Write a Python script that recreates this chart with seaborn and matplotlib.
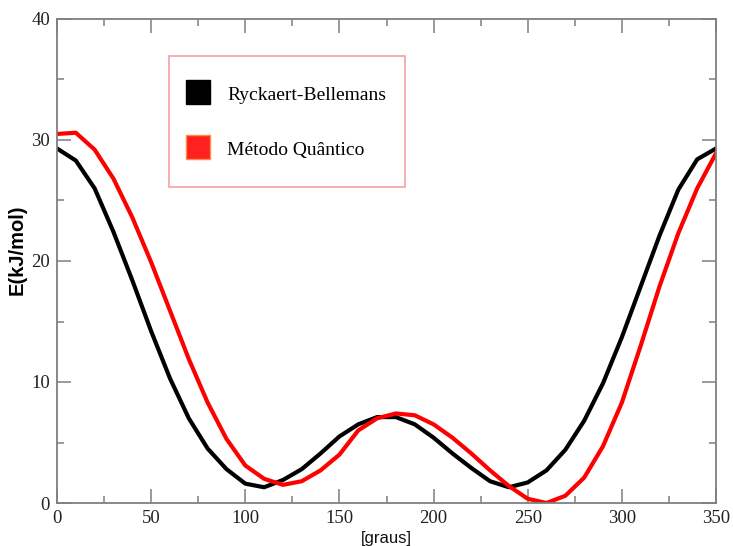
import numpy as np
import pandas as pd
import matplotlib
matplotlib.use("Agg")
import matplotlib.pyplot as plt
from matplotlib.lines import Line2D
from matplotlib.ticker import MultipleLocator
import seaborn as sns

angles = list(range(0, 351, 10))
rb_values = [29.3, 28.3, 26.0, 22.4, 18.4, 14.2, 10.3, 7.0, 4.5, 2.8,
             1.6, 1.3, 1.9, 2.8, 4.1, 5.5, 6.5, 7.1, 7.1, 6.5,
             5.4, 4.1, 2.9, 1.8, 1.3, 1.7, 2.7, 4.4, 6.8, 9.9,
             13.7, 17.9, 22.1, 25.9, 28.4, 29.3]
qm_values = [30.5, 30.6, 29.2, 26.8, 23.6, 19.9, 15.9, 11.9, 8.3, 5.3,
             3.1, 2.0, 1.5, 1.8, 2.7, 4.0, 6.0, 7.0, 7.4, 7.25,
             6.5, 5.4, 4.1, 2.7, 1.4, 0.35, 0.0, 0.6, 2.1, 4.7,
             8.3, 13.0, 17.9, 22.3, 26.0, 28.9]
series_names = ["Ryckaert-Bellemans", "Método Quântico"]
x_label = "[graus]"
y_label = "E(kJ/mol)"

df = pd.DataFrame({
    "angle": angles * 2,
    "E": rb_values + qm_values,
    "method": [series_names[0]] * len(angles) + [series_names[1]] * len(angles),
})

sns.set_style("white")
fig = plt.figure(figsize=(7.33, 5.46), dpi=100)
ax = fig.add_axes([57 / 733, 1 - 503 / 546, (716 - 57) / 733, (503 - 19) / 546])

line_colors = {series_names[0]: "#000000", series_names[1]: "#ff0000"}
sns.lineplot(data=df, x="angle", y="E", hue="method", palette=line_colors,
             linewidth=3, legend=False, ax=ax)

ax.set_xlim(0, 350)
ax.set_ylim(0, 40)
ax.xaxis.set_major_locator(MultipleLocator(50))
ax.xaxis.set_minor_locator(MultipleLocator(25))
ax.yaxis.set_major_locator(MultipleLocator(10))
ax.yaxis.set_minor_locator(MultipleLocator(5))

spine_gray = "#7f7f7f"
for s in ax.spines.values():
    s.set_visible(True)
    s.set_color(spine_gray)
    s.set_linewidth(1.3)

ax.tick_params(which="both", direction="in", top=True, right=True,
               bottom=True, left=True, color=spine_gray, width=1.1)
ax.tick_params(which="major", length=10, pad=5, labelsize=13.5)
ax.tick_params(which="minor", length=5)
for lab in ax.get_xticklabels() + ax.get_yticklabels():
    lab.set_fontfamily("Liberation Serif")
    lab.set_color("#222222")

ax.set_xlabel(x_label, fontfamily="Liberation Sans", fontsize=12, labelpad=3,
              color="#111111")
ax.set_ylabel(y_label, fontfamily="Liberation Sans", fontsize=14.5,
              fontweight="bold", color="#000000")
ax.yaxis.set_label_coords((27 - 57) / 659, 0.523)

handles = [
    Line2D([], [], marker="s", linestyle="none", markersize=17,
           markerfacecolor="#000000", markeredgecolor="#000000", label=series_names[0]),
    Line2D([], [], marker="s", linestyle="none", markersize=17,
           markerfacecolor="#ff2020", markeredgecolor="#ff8c40", label=series_names[1]),
]
leg_x0 = (169 - 57) / 659
leg_top = (503 - 56) / 484
leg_w = (405 - 169) / 659
leg = ax.legend(handles=handles, loc="upper left", mode="expand",
                bbox_to_anchor=(leg_x0, leg_top, leg_w, 0.0),
                prop={"family": "Liberation Serif", "size": 14.0},
                frameon=True, fancybox=False, borderpad=1.45, handlelength=0.1,
                handleheight=1.0, handletextpad=1.45, labelspacing=1.86,
                borderaxespad=0)
leg.get_frame().set_edgecolor("#f08a8a")
leg.get_frame().set_linewidth(1.2)
for t in leg.get_texts():
    t.set_color("#000000")

fig.savefig("out.png", dpi=100)
